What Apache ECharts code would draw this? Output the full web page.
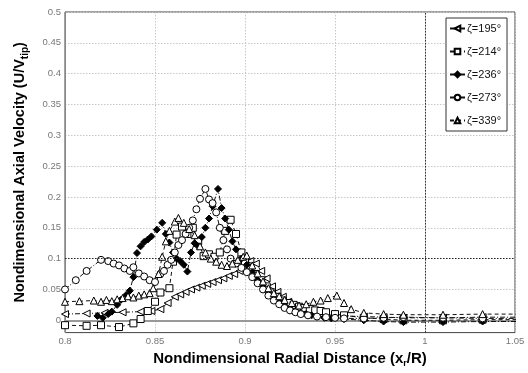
<!DOCTYPE html>
<html>
<head>
<meta charset="utf-8">
<script src="https://cdn.jsdelivr.net/npm/echarts@6/dist/echarts.min.js"></script>
<style>
  html, body { margin: 0; padding: 0; background: #fff; }
  #chart { width: 528px; height: 373px; }
</style>
</head>
<body>
<div id="chart"></div>
<script>
// Wake-age labels for the five measured profiles
const seriesNames = ['ζ=195°', 'ζ=214°', 'ζ=236°', 'ζ=273°', 'ζ=339°'];

// Axis tick values
const xTicks = [0.8, 0.85, 0.9, 0.95, 1, 1.05];
const yTicks = [0, 0.05, 0.1, 0.15, 0.2, 0.25, 0.3, 0.35, 0.4, 0.45, 0.5];

// ζ=195°
const x195 = [0.800, 0.812, 0.822, 0.832, 0.842, 0.848, 0.853, 0.857, 0.861, 0.864, 0.867, 0.870, 0.873, 0.876, 0.879, 0.882, 0.885, 0.888, 0.891, 0.894, 0.897, 0.900, 0.903, 0.906, 0.909, 0.912, 0.915, 0.918, 0.921, 0.924, 0.927, 0.930, 0.933, 0.936, 0.939, 0.942, 0.945, 0.950, 0.955, 0.966, 0.977, 0.988, 1.010, 1.032, 1.060];
const y195 = [0.010, 0.011, 0.012, 0.013, 0.014, 0.015, 0.018, 0.028, 0.038, 0.042, 0.046, 0.050, 0.053, 0.056, 0.059, 0.062, 0.065, 0.068, 0.072, 0.075, 0.080, 0.088, 0.096, 0.092, 0.080, 0.068, 0.055, 0.046, 0.038, 0.030, 0.024, 0.020, 0.017, 0.014, 0.012, 0.010, 0.009, 0.008, 0.007, 0.006, 0.005, 0.004, 0.004, 0.005, 0.005];

// ζ=214°
const x214 = [0.800, 0.812, 0.820, 0.830, 0.838, 0.842, 0.846, 0.850, 0.853, 0.858, 0.860, 0.862, 0.865, 0.868, 0.871, 0.874, 0.877, 0.880, 0.883, 0.886, 0.889, 0.892, 0.895, 0.898, 0.900, 0.903, 0.906, 0.909, 0.912, 0.915, 0.918, 0.921, 0.924, 0.927, 0.930, 0.933, 0.936, 0.939, 0.942, 0.945, 0.950, 0.955, 0.966, 0.977, 0.988, 1.010, 1.032, 1.060];
const y214 = [-0.008, -0.009, -0.008, -0.011, -0.005, 0.002, 0.015, 0.030, 0.045, 0.052, 0.095, 0.139, 0.152, 0.140, 0.150, 0.128, 0.104, 0.107, 0.103, 0.110, 0.145, 0.163, 0.140, 0.110, 0.095, 0.085, 0.075, 0.065, 0.055, 0.045, 0.038, 0.032, 0.028, 0.025, 0.022, 0.020, 0.018, 0.016, 0.015, 0.013, 0.010, 0.008, 0.004, 0.002, 0.000, 0.000, 0.001, 0.001];

// ζ=236°
const x236 = [0.818, 0.821, 0.824, 0.826, 0.829, 0.831, 0.834, 0.836, 0.838, 0.840, 0.842, 0.844, 0.846, 0.848, 0.851, 0.854, 0.856, 0.858, 0.860, 0.862, 0.864, 0.866, 0.868, 0.870, 0.872, 0.874, 0.876, 0.878, 0.880, 0.882, 0.885, 0.887, 0.889, 0.891, 0.893, 0.895, 0.898, 0.901, 0.904, 0.907, 0.910, 0.913, 0.916, 0.919, 0.922, 0.925, 0.928, 0.931, 0.934, 0.937, 0.940, 0.944, 0.948, 0.955, 0.966, 0.977, 0.988, 1.010, 1.032, 1.060];
const y236 = [0.007, 0.004, 0.010, 0.014, 0.025, 0.033, 0.041, 0.048, 0.070, 0.109, 0.120, 0.127, 0.131, 0.136, 0.147, 0.158, 0.140, 0.126, 0.110, 0.100, 0.096, 0.090, 0.079, 0.110, 0.125, 0.120, 0.135, 0.150, 0.165, 0.185, 0.213, 0.182, 0.165, 0.147, 0.128, 0.115, 0.100, 0.090, 0.078, 0.065, 0.055, 0.045, 0.036, 0.030, 0.024, 0.019, 0.015, 0.012, 0.010, 0.008, 0.006, 0.004, 0.003, 0.002, 0.000, -0.002, -0.003, -0.003, -0.002, -0.002];

// ζ=273°
const x273 = [0.800, 0.806, 0.812, 0.820, 0.824, 0.827, 0.830, 0.833, 0.836, 0.838, 0.841, 0.844, 0.847, 0.850, 0.853, 0.855, 0.857, 0.859, 0.861, 0.863, 0.865, 0.867, 0.869, 0.871, 0.873, 0.875, 0.878, 0.880, 0.882, 0.884, 0.886, 0.888, 0.890, 0.892, 0.895, 0.898, 0.901, 0.904, 0.907, 0.910, 0.913, 0.916, 0.919, 0.922, 0.925, 0.928, 0.931, 0.935, 0.940, 0.945, 0.950, 0.955, 0.966, 0.977, 0.988, 1.010, 1.032, 1.060];
const y273 = [0.050, 0.065, 0.080, 0.098, 0.096, 0.092, 0.089, 0.084, 0.080, 0.086, 0.076, 0.071, 0.065, 0.062, 0.075, 0.080, 0.090, 0.098, 0.110, 0.122, 0.130, 0.140, 0.150, 0.162, 0.180, 0.197, 0.213, 0.196, 0.190, 0.175, 0.150, 0.130, 0.115, 0.100, 0.092, 0.085, 0.078, 0.070, 0.060, 0.050, 0.040, 0.032, 0.026, 0.020, 0.016, 0.013, 0.010, 0.008, 0.006, 0.005, 0.004, 0.003, 0.003, 0.004, 0.005, 0.004, 0.003, 0.003];

// ζ=339°
const x339 = [0.800, 0.808, 0.816, 0.820, 0.823, 0.826, 0.829, 0.832, 0.835, 0.838, 0.841, 0.844, 0.847, 0.849, 0.852, 0.854, 0.856, 0.858, 0.861, 0.863, 0.866, 0.869, 0.872, 0.875, 0.878, 0.881, 0.884, 0.887, 0.890, 0.893, 0.896, 0.899, 0.901, 0.904, 0.907, 0.910, 0.913, 0.916, 0.919, 0.922, 0.926, 0.930, 0.934, 0.938, 0.942, 0.946, 0.951, 0.955, 0.959, 0.966, 0.977, 0.988, 1.010, 1.032, 1.060];
const y339 = [0.030, 0.031, 0.032, 0.030, 0.033, 0.031, 0.034, 0.036, 0.039, 0.037, 0.040, 0.042, 0.044, 0.052, 0.075, 0.103, 0.128, 0.145, 0.160, 0.166, 0.158, 0.148, 0.138, 0.120, 0.110, 0.100, 0.095, 0.090, 0.088, 0.092, 0.098, 0.103, 0.105, 0.089, 0.076, 0.063, 0.052, 0.044, 0.039, 0.033, 0.028, 0.024, 0.026, 0.030, 0.032, 0.036, 0.040, 0.028, 0.018, 0.012, 0.010, 0.009, 0.009, 0.010, 0.010];

const xsAll = [x195, x214, x236, x273, x339];
const ysAll = [y195, y214, y236, y273, y339];

// Marker and line style per profile
const markers = [
  { symbol: 'triangle', rotate: 90, filled: false, dash: [5, 2, 1, 2] },
  { symbol: 'rect', rotate: 0, filled: false, dash: [4, 3] },
  { symbol: 'diamond', rotate: 0, filled: true, dash: [5, 2, 1, 2] },
  { symbol: 'circle', rotate: 0, filled: false, dash: [5, 2, 1, 2] },
  { symbol: 'triangle', rotate: 0, filled: false, dash: [4, 3] }
];

const zip = (xs, ys) => xs.map((x, i) => [x, ys[i]]);

const series = seriesNames.map((name, k) => {
  const m = markers[k];
  const s = {
    name: name,
    type: 'line',
    data: zip(xsAll[k], ysAll[k]),
    symbol: m.symbol,
    symbolSize: m.symbol === 'diamond' ? 7 : 7,
    symbolRotate: m.rotate,
    showAllSymbol: true,
    clip: true,
    animation: false,
    lineStyle: { color: '#111', width: 1, type: m.dash },
    itemStyle: {
      color: m.filled ? '#000' : '#fff',
      borderColor: '#000',
      borderWidth: 1
    }
  };
  if (k === 0) {
    s.markLine = {
      silent: true,
      symbol: 'none',
      animation: false,
      label: { show: false },
      lineStyle: { color: '#222', width: 1, type: [1.5, 1.5] },
      data: [{ yAxis: 0.1 }, { xAxis: 1 }]
    };
  }
  return s;
});

const chart = echarts.init(document.getElementById('chart'), null, { renderer: 'canvas' });
chart.setOption({
  animation: false,
  backgroundColor: '#fff',
  textStyle: { fontFamily: 'Liberation Sans, Arial, sans-serif' },
  grid: {
    left: 65, right: 13, top: 12, bottom: 33,
    show: true, borderColor: '#444', borderWidth: 1, backgroundColor: '#fff'
  },
  legend: {
    orient: 'vertical',
    left: 446,
    top: 18,
    backgroundColor: '#fff',
    borderColor: '#333',
    borderWidth: 1,
    borderRadius: 0,
    padding: [5, 6, 5, 3],
    itemWidth: 15,
    itemHeight: 7,
    itemGap: 12,
    textStyle: { fontSize: 11, color: '#111', padding: [0, 0, 0, -3] },
    data: seriesNames
  },
  xAxis: {
    type: 'value',
    min: 0.8,
    max: 1.05,
    name: 'Nondimensional Radial Distance (x{sub|r}/R)',
    nameLocation: 'middle',
    nameGap: 15,
    nameTextStyle: {
      fontSize: 15, fontWeight: 'bold', color: '#000',
      rich: { sub: { fontSize: 9, fontWeight: 'bold', padding: [9, 0, 0, 0] } }
    },
    axisLine: { show: true, lineStyle: { color: '#999', width: 2 } },
    axisTick: { show: false, customValues: xTicks },
    axisLabel: { customValues: xTicks, fontSize: 9.5, color: '#777', margin: 4 },
    splitLine: { show: true, lineStyle: { color: '#c8c8c8', type: [1.5, 1.5], width: 1 } }
  },
  yAxis: {
    type: 'value',
    min: -0.02,
    max: 0.5,
    name: 'Nondimensional Axial Velocity (U/V{sub|tip})',
    nameLocation: 'middle',
    nameRotate: 90,
    nameGap: 35,
    nameTextStyle: {
      fontSize: 14.5, fontWeight: 'bold', color: '#000',
      rich: { sub: { fontSize: 10, fontWeight: 'bold', padding: [10, 0, 0, 0] } }
    },
    axisLine: { show: true, lineStyle: { color: '#888', width: 1 } },
    axisTick: { show: false, customValues: yTicks },
    axisLabel: { customValues: yTicks, fontSize: 9.5, color: '#777', margin: 4 },
    splitLine: { show: true, lineStyle: { color: '#c8c8c8', type: [1.5, 1.5], width: 1 } }
  },
  series: series
});
</script>
</body>
</html>
